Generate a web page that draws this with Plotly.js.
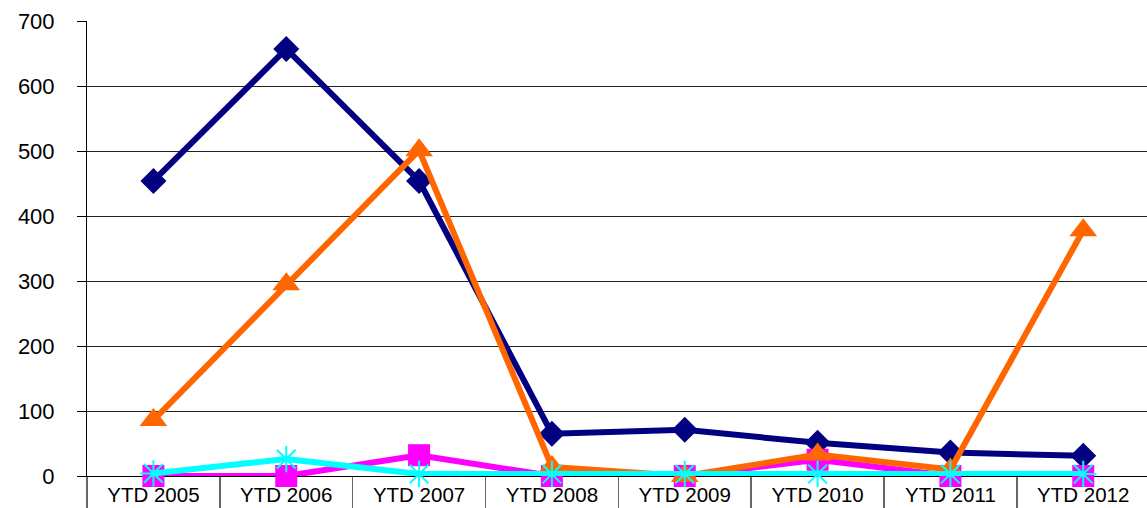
<!DOCTYPE html>
<html><head><meta charset="utf-8">
<script src="https://cdn.plot.ly/plotly-3.0.1.min.js"></script>
<style>html,body{margin:0;padding:0;background:#fff;}#chart{width:1147px;height:508px;}</style>
</head><body><div id="chart"></div>
<script>
const categories = ["YTD 2005","YTD 2006","YTD 2007","YTD 2008","YTD 2009","YTD 2010","YTD 2011","YTD 2012"];
const seriesNavy    = [454, 657, 454, 65, 71, 51, 36, 31];
const seriesMagenta = [0, 0, 32, 0, 0, 25, 0, 0];
const seriesOrange  = [86, 295, 501, 14, 0, 33, 10, 378];
const seriesCyan    = [4, 26, 3, 3, 3, 3, 3, 3];
const yTicks = [0, 100, 200, 300, 400, 500, 600, 700];

const traces = [
  {x: categories, y: seriesNavy, mode: 'lines+markers', line: {color: '#000080', width: 6},
   marker: {symbol: 'diamond', size: 20, color: '#000080'}},
  {x: categories, y: seriesMagenta, mode: 'lines+markers', line: {color: '#FF00FF', width: 6},
   marker: {symbol: 'square', size: 22, color: '#FF00FF'}},
  {x: categories, y: seriesOrange, mode: 'lines+markers', line: {color: '#FF6600', width: 6},
   marker: {symbol: 'triangle-up', size: 24, color: '#FF6600'}},
  {x: categories, y: seriesCyan, mode: 'lines+markers', line: {color: '#00FFFF', width: 6},
   marker: {symbol: 'asterisk-open', size: 22, color: '#00FFFF', line: {color: '#00FFFF', width: 2}}}
];
traces.forEach(t => { t.cliponaxis = false; t.showlegend = false; t.hoverinfo = 'skip'; });

const layout = {
  width: 1147, height: 508,
  margin: {l: 87, r: 0, t: 21, b: 32},
  paper_bgcolor: '#fff', plot_bgcolor: '#fff',
  font: {family: 'Liberation Sans, Arial, sans-serif', size: 20, color: '#000'},
  xaxis: {
    type: 'category', range: [-0.5, 7.48],
    showline: true, linecolor: '#000', linewidth: 1, layer: 'below traces',
    showgrid: false, ticks: 'outside', tickson: 'boundaries', ticklen: 32, tickcolor: '#666', tickwidth: 1.5,
    ticklabelstandoff: 0,
    tickfont: {size: 20.5, family: 'Liberation Sans, Arial, sans-serif'}
  },
  yaxis: {
    range: [0, 700], tickvals: yTicks, ticktext: yTicks.map(String),
    showline: true, linecolor: '#000', linewidth: 1, layer: 'below traces',
    showgrid: true, gridcolor: '#222', gridwidth: 1, zeroline: false,
    ticks: 'outside', ticklen: 9, tickcolor: '#000',
    ticklabelstandoff: 18,
    tickfont: {size: 22, family: 'Liberation Sans, Arial, sans-serif'}
  }
};
Plotly.newPlot('chart', traces, layout, {staticPlot: true});
</script></body></html>
